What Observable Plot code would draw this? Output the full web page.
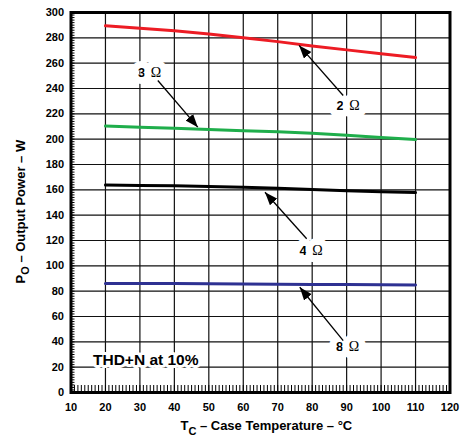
<!DOCTYPE html>
<html>
<head>
<meta charset="utf-8">
<script src="https://cdn.jsdelivr.net/npm/d3@7"></script>
<script src="https://cdn.jsdelivr.net/npm/@observablehq/plot@0.6"></script>
<style>
  html, body { margin: 0; padding: 0; background: #fff; }
</style>
</head>
<body>
<script>
// ---- data ----
const temps = [20, 30, 40, 50, 60, 70, 80, 90, 100, 110];          // case temperature, °C
const power2 = [289.5, 287.5, 285.5, 283.0, 280.0, 277.0, 273.5, 270.5, 267.5, 264.5];
const power3 = [210.3, 209.5, 208.6, 207.6, 206.7, 205.8, 204.6, 203.0, 201.4, 199.7];
const power4 = [163.8, 163.5, 163.2, 162.6, 162.0, 161.2, 160.2, 159.2, 158.5, 157.8];
const power8 = [86.0, 86.0, 86.0, 85.8, 85.6, 85.4, 85.3, 85.2, 85.0, 84.8];

const xTickLabels = [10, 20, 30, 40, 50, 60, 70, 80, 90, 100, 110, 120];
const yTickLabels = [0, 20, 40, 60, 80, 100, 120, 140, 160, 180, 200, 220, 240, 260, 280, 300];

// annotations (data units)
const loadNames  = ["3", "2", "4", "8"];
const labelX     = [32.4, 90.0, 79.3, 89.9];
const labelY     = [252.6, 226.6, 112.1, 36.3];
const arrowFromX = [35.2, 89.0, 78.4, 89.0];
const arrowFromY = [246.3, 234.5, 121.4, 41.0];
const arrowToX   = [46.8, 76.2, 66.3, 76.4];
const arrowToY   = [209.5, 274.0, 158.1, 83.1];
const noteText = ["THD+N at 10%"];
const noteX = 31.7, noteY = 25.3;

// ---- tables built from the arrays ----
const series = [
  {load: "2", values: power2, color: "#ed1c24"},
  {load: "3", values: power3, color: "#1fae4b"},
  {load: "4", values: power4, color: "#000000"},
  {load: "8", values: power8, color: "#2e3192"}
];
const labels = loadNames.map((n, i) => ({n, x: labelX[i], y: labelY[i]}));
const arrows = loadNames.map((n, i) => ({x1: arrowFromX[i], y1: arrowFromY[i], x2: arrowToX[i], y2: arrowToY[i]}));

const W = 466, H = 447;
const mL = 70.5, mR = 16.5, mT = 12, mB = 55;
const innerW = W - mL - mR, innerH = H - mT - mB;

const minorX = d3.range(10, 120.01, 1);
const minorY = d3.range(0, 300.01, 2);
const font = "'Liberation Sans', Arial, Helvetica, sans-serif";

const svg = Plot.plot({
  width: W, height: H,
  marginLeft: mL, marginRight: mR, marginTop: mT, marginBottom: mB,
  style: {background: "#fff", fontFamily: font, fontSize: "11px", fontWeight: "bold", color: "#000"},
  x: {domain: [10, 120], ticks: xTickLabels, tickSize: 0, tickPadding: 11, label: null},
  y: {domain: [0, 300], ticks: yTickLabels, tickSize: 0, tickPadding: 7, label: null},
  marks: [
    // grid
    Plot.ruleY(yTickLabels, {stroke: "#111", strokeWidth: 1.2}),
    Plot.ruleX(xTickLabels, {stroke: "#111", strokeWidth: 1.2}),
    // minor ticks (inside)
    Plot.ruleY(minorY, {y: d => d, insetRight: innerW - 4, stroke: "#000", strokeWidth: 1}),
    Plot.ruleX(minorX, {x: d => d, insetTop: innerH - 7, stroke: "#000", strokeWidth: 1}),
    // label boxes / labels
    Plot.text(labels, {x: "x", y: "y", text: d => d.n, textAnchor: "end", dx: -3,
      fontSize: 13, fontWeight: "bold", fontFamily: font, fill: "#000",
      stroke: "#fff", strokeWidth: 14}),
    Plot.text(labels, {x: "x", y: "y", text: () => "Ω", textAnchor: "start", dx: 2.5,
      fontSize: 14, fontWeight: "normal", fontFamily: "'Liberation Serif', 'Times New Roman', serif", fill: "#000",
      stroke: "#fff", strokeWidth: 14}),
    Plot.text(noteText, {x: () => noteX, y: () => noteY, text: d => d,
      fontSize: 15.5, fontWeight: "bold", fontFamily: font, fill: "#000",
      stroke: "#fff", strokeWidth: 6}),
    // data lines
    ...series.map(s => Plot.line(temps.map((t, i) => ({t, p: s.values[i]})),
      {x: "t", y: "p", stroke: s.color, strokeWidth: 3})),
    // arrows
    Plot.link(arrows, {x1: "x1", y1: "y1", x2: "x2", y2: "y2", stroke: "#000", strokeWidth: 1.3}),
    // frame
    Plot.frame({stroke: "#000", strokeWidth: 3}),
    // axis titles
    Plot.text(["T"], {text: d => d, frameAnchor: "bottom", textAnchor: "start", dx: -80, dy: 37.2,
      fontSize: 13, fontWeight: "bold", fontFamily: font, fill: "#000"}),
    Plot.text(["C"], {text: d => d, frameAnchor: "bottom", textAnchor: "start", dx: -72.1, dy: 42,
      fontSize: 11, fontWeight: "bold", fontFamily: font, fill: "#000"}),
    Plot.text(["– Case Temperature – °C"], {text: d => d, frameAnchor: "bottom", textAnchor: "start", dx: -60.6, dy: 37.2,
      fontSize: 13, fontWeight: "bold", fontFamily: font, fill: "#000"}),
    Plot.text(["P"], {text: d => d, frameAnchor: "left", textAnchor: "start", rotate: -90, dx: -50.5, dy: 81,
      fontSize: 13, fontWeight: "bold", fontFamily: font, fill: "#000"}),
    Plot.text(["O"], {text: d => d, frameAnchor: "left", textAnchor: "start", rotate: -90, dx: -45.5, dy: 72.3,
      fontSize: 11, fontWeight: "bold", fontFamily: font, fill: "#000"}),
    Plot.text(["– Output Power – W"], {text: d => d, frameAnchor: "left", textAnchor: "start", rotate: -90, dx: -50.5, dy: 60.1,
      fontSize: 13, fontWeight: "bold", fontFamily: font, fill: "#000"})
  ]
});

// filled arrowheads on the link mark
const ns = "http://www.w3.org/2000/svg";
const defs = document.createElementNS(ns, "defs");
const marker = document.createElementNS(ns, "marker");
marker.setAttribute("id", "ahead");
marker.setAttribute("viewBox", "-13 -5 13 10");
marker.setAttribute("refX", "0");
marker.setAttribute("refY", "0");
marker.setAttribute("markerWidth", "13");
marker.setAttribute("markerHeight", "10");
marker.setAttribute("markerUnits", "userSpaceOnUse");
marker.setAttribute("orient", "auto");
const mp = document.createElementNS(ns, "path");
mp.setAttribute("d", "M-13,-5L0,0L-13,5Z");
mp.setAttribute("fill", "#000");
mp.setAttribute("stroke", "none");
marker.appendChild(mp);
defs.appendChild(marker);
svg.insertBefore(defs, svg.firstChild);
svg.querySelectorAll('g[aria-label="link"] path').forEach(p => p.setAttribute("marker-end", "url(#ahead)"));

document.body.appendChild(svg);
</script>
</body>
</html>
